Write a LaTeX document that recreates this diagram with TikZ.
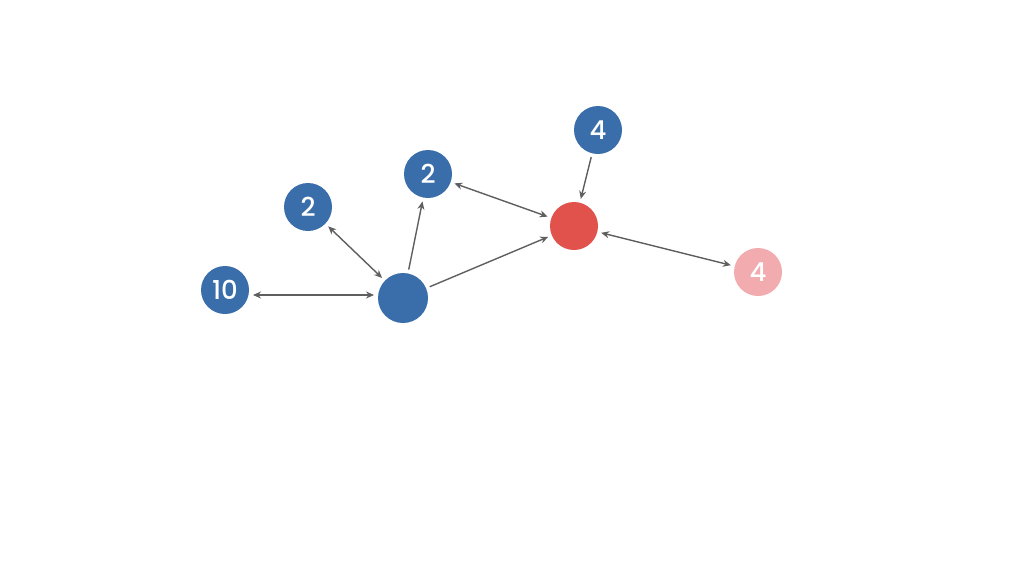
\documentclass[tikz,border=0pt]{standalone}
\usepackage{fontspec}
\setmainfont{Poppins}[BoldFont={Poppins Medium}]
\usetikzlibrary{arrows.meta}
\definecolor{nodeblue}{RGB}{58,110,170}
\definecolor{nodered}{RGB}{226,82,76}
\definecolor{nodepink}{RGB}{242,172,176}
\definecolor{edgegray}{RGB}{95,95,95}
\begin{document}
\begin{tikzpicture}[x=1pt,y=-1pt]
      \tikzset{vertex/.style={circle,
          inner sep=0pt,
          outer sep=4pt,
          minimum size=48pt,
          fill=#1,
          text=white,
          font=\fontsize{26}{30}\selectfont\bfseries},
        link/.style={draw=edgegray,line width=1.4pt,
          -{Stealth[length=8pt,width=7pt]}},
        dlink/.style={link,{Stealth[length=8pt,width=7pt]}-{Stealth[length=8pt,width=7pt]}}
      }
      \useasboundingbox [fill=white] (0,0) rectangle (1024,576);
      \node [vertex=nodeblue] (T) at (225,290) {10};
      \node [vertex=nodeblue] (L) at (308,207) {2};
      \node [vertex=nodeblue] (M) at (428,174) {2};
      \node [vertex=nodeblue,minimum size=50pt] (H) at (403,298) {};
      \node [vertex=nodeblue] (F) at (598,130) {4};
      \node [vertex=nodered] (R) at (574,226) {};
      \node [vertex=nodepink] (P) at (758,272) {4};
      \draw [dlink] (T.east |- 0,295)--(H.west |- 0,295);
      \draw [dlink] (L)--(H);
      \draw [link] (H)--(M);
      \draw [link] (H)--(R);
      \draw [dlink] (M)--(R);
      \draw [link] (F)--(R);
      \draw [dlink] (R)--(P);
    \end{tikzpicture}
\end{document}
